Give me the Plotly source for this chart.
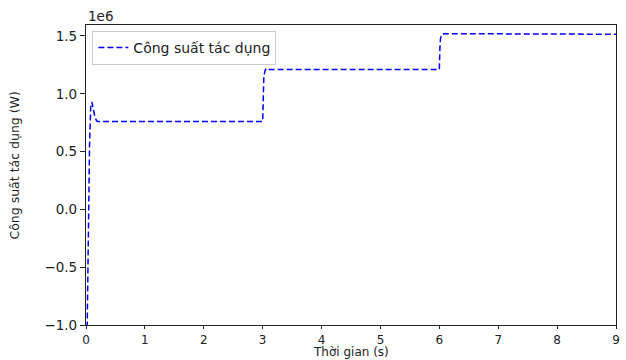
import plotly.graph_objects as go

# Data (time in s, active power in W)
time_s = [0.0, 0.02, 0.04, 0.06, 0.08, 0.10, 0.12, 0.15, 0.18, 0.20,
          3.00, 3.01, 3.02, 3.04, 3.06, 3.10,
          6.00, 6.01, 6.02, 6.04, 6.08, 9.0]
power_w = [-1.8e6, -1.0e6, -0.1e6, 0.55e6, 0.88e6, 0.93e6, 0.88e6, 0.80e6, 0.765e6, 0.76e6,
           0.76e6, 1.00e6, 1.15e6, 1.20e6, 1.22e6, 1.21e6,
           1.21e6, 1.40e6, 1.48e6, 1.51e6, 1.52e6, 1.515e6]

x_ticks = [0, 1, 2, 3, 4, 5, 6, 7, 8, 9]
y_tickvals = [-1.0e6, -0.5e6, 0.0, 0.5e6, 1.0e6, 1.5e6]
y_ticktext = ["\u22121.0", "\u22120.5", "0.0", "0.5", "1.0", "1.5"]

FONT = "DejaVu Sans"
fs = 13.5
INK = "#222"

fig = go.Figure()
fig.add_trace(go.Scatter(
    x=time_s, y=power_w, mode="lines",
    name="Công suất tác dụng",
    line=dict(color="#0000ff", width=1.5, dash="6px,3px"),
))

fig.update_layout(
    width=626, height=360,
    margin=dict(l=86, r=6, t=25, b=35),
    paper_bgcolor="white", plot_bgcolor="white",
    font=dict(family=FONT, size=fs, color=INK),
    showlegend=True,
    legend=dict(x=0.012, y=0.98, xanchor="left", yanchor="top",
                bgcolor="rgba(255,255,255,0.9)", bordercolor="#cccccc", borderwidth=1,
                font=dict(family=FONT, size=14, color=INK),
                tracegroupgap=0),
    xaxis=dict(range=[0, 9], tickvals=x_ticks, showgrid=False, zeroline=False,
               showline=True, mirror=True, linecolor=INK, linewidth=1.2,
               ticks="outside", ticklen=3, tickcolor=INK, tickwidth=1,
               tickfont=dict(family=FONT, size=12, color=INK)),
    yaxis=dict(range=[-1.0e6, 1.595e6], tickvals=y_tickvals, ticktext=y_ticktext,
               showgrid=False, zeroline=False,
               showline=True, mirror=True, linecolor=INK, linewidth=1.2,
               ticks="outside", ticklen=5, tickcolor=INK, tickwidth=1,
               tickfont=dict(family=FONT, size=fs, color=INK)),
    annotations=[
        dict(text="Thời gian (s)", xref="paper", yref="paper", x=0.5, y=-35 / 300,
             xanchor="center", yanchor="bottom", showarrow=False, borderpad=0,
             font=dict(family=FONT, size=12, color=INK)),
        dict(text="Công suất tác dụng (W)", xref="paper", yref="paper", x=-0.135, y=0.533,
             xanchor="center", yanchor="middle", textangle=-90, showarrow=False,
             font=dict(family=FONT, size=12.5, color=INK)),
        dict(text="1e6", xref="paper", yref="paper", x=0.0, y=1.03,
             xanchor="left", yanchor="middle", showarrow=False,
             font=dict(family=FONT, size=fs, color=INK)),
    ],
)

fig.write_html("out.html")
